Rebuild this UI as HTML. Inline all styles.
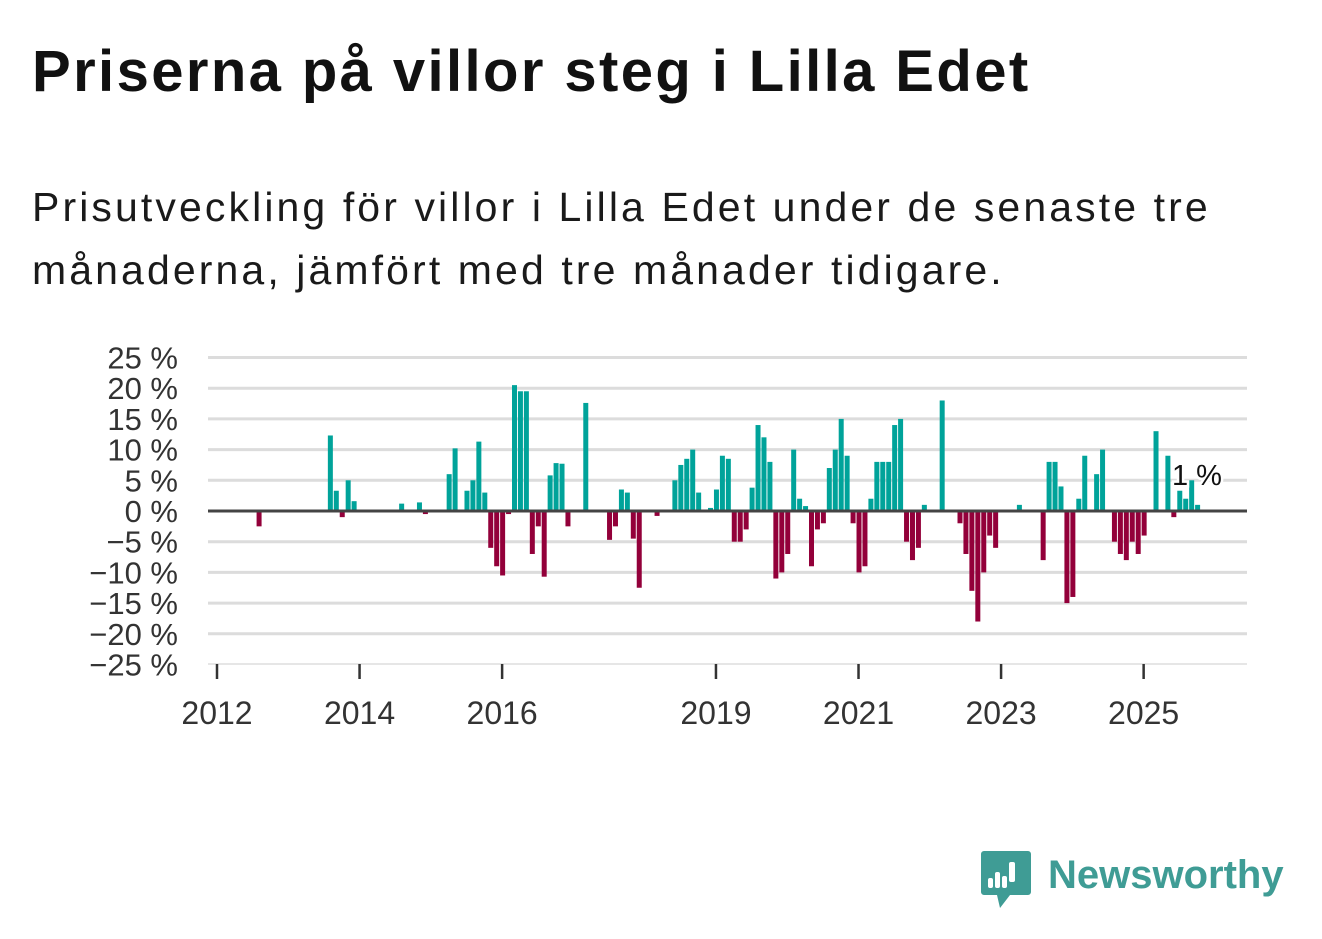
<!DOCTYPE html>
<html><head><meta charset="utf-8"><style>
body{margin:0;width:1322px;height:939px;background:#fff;overflow:hidden;font-family:"Liberation Sans","DejaVu Sans",sans-serif;color:#111}
#title{position:absolute;left:32px;top:38px;font-size:58px;font-weight:bold;margin:0;letter-spacing:2.4px;white-space:nowrap}
#sub{position:absolute;left:32px;top:176px;font-size:41px;line-height:63px;color:#1a1a1a;margin:0;letter-spacing:3.1px;white-space:nowrap}
svg{position:absolute;left:0;top:0}
</style></head><body>
<h1 id="title">Priserna på villor steg i Lilla Edet</h1>
<p id="sub">Prisutveckling för villor i Lilla Edet under de senaste tre<br>månaderna, jämfört med tre månader tidigare.</p>
<svg id="chart" width="1322" height="939"></svg>
<script>
const months=[7,19,20,21,22,23,31,34,35,39,40,42,43,44,45,46,47,48,49,50,51,52,53,54,55,56,57,58,59,62,66,67,68,69,70,71,74,77,78,79,80,81,83,84,85,86,87,88,89,90,91,92,93,94,95,96,97,98,99,100,101,102,103,104,105,106,107,108,109,110,111,112,113,114,115,116,117,118,119,122,125,126,127,128,129,130,131,135,139,140,141,142,143,144,145,146,148,149,151,152,153,154,155,156,158,160,161,162,163,164,165];
const values=[-2.5,12.3,3.3,-1,5,1.6,1.2,1.4,-0.5,6,10.2,3.3,5,11.3,3,-6,-9,-10.5,-0.5,20.5,19.5,19.5,-7,-2.5,-10.7,5.8,7.8,7.7,-2.5,17.6,-4.7,-2.5,3.5,3,-4.5,-12.5,-0.8,5,7.5,8.5,10,3,0.5,3.5,9,8.5,-5,-5,-3,3.8,14,12,8,-11,-10,-7,10,2,0.8,-9,-3,-2,7,10,15,9,-2,-10,-9,2,8,8,8,14,15,-5,-8,-6,1,18,-2,-7,-13,-18,-10,-4,-6,1,-8,8,8,4,-15,-14,2,9,6,10,-5,-7,-8,-5,-7,-4,13,9,-1,3.3,2,5,1];
const yTicks=[25,20,15,10,5,0,-5,-10,-15,-20,-25];
const xYears=[2012,2014,2016,2019,2021,2023,2025];
const svg=document.getElementById('chart');const NS='http://www.w3.org/2000/svg';
const y=v=>511-v*6.14;
const xm=m=>217+m*5.94;
const xy=yr=>xm((yr-2012)*12);
function el(t,a,p){const e=document.createElementNS(NS,t);for(const k in a)e.setAttribute(k,a[k]);(p||svg).appendChild(e);return e;}
yTicks.forEach(t=>{
  if(t!==0&&t!==-25){const g=el('line',{x1:208,x2:1247,y1:y(t),y2:y(t),stroke:'#dcdcdc','stroke-width':3});
  
  }
  const l=el('text',{x:178,y:y(t)+11,'text-anchor':'end','font-size':31,fill:'#333'});
  l.textContent=(t<0?'\u2212'+(-t):t)+' %';
  
  
});
const ax=el('line',{x1:208,x2:1247,y1:664,y2:664,stroke:'#ddd','stroke-width':1.5});


xYears.forEach(yr=>{
  const tk=el('line',{x1:xy(yr),x2:xy(yr),y1:664,y2:679,stroke:'#333','stroke-width':2.5});
  
  
  const l=el('text',{x:xy(yr),y:724,'text-anchor':'middle','font-size':32,fill:'#333'});
  l.textContent=yr;
  
  
});
months.forEach((m,i)=>{
  const v=values[i];const cx=xm(m)+0.5;
  const r=el('rect',{x:cx-2.5,width:5,y:Math.min(y(v),511),height:Math.abs(y(v)-511),fill:v>=0?'#00a39a':'#93003a'});
  
  
});
const z=el('line',{x1:208,x2:1247,y1:511,y2:511,stroke:'#444','stroke-width':3});


const lab=el('text',{x:1197,y:485,'text-anchor':'middle','font-size':29,fill:'#111',stroke:'#fff','stroke-width':5,'paint-order':'stroke'});
lab.textContent='1 %';


const lg=el('g',{});


el('path',{d:'M984 851 h44 a3 3 0 0 1 3 3 v38 a3 3 0 0 1 -3 3 h-18 l-10 13 l-3 -13 h-13 a3 3 0 0 1 -3 -3 v-38 a3 3 0 0 1 3 -3z',fill:'#3f9c95'},lg);
[[988,878,5,10],[995,872,5,16],[1002,876,5,12],[1009,862,6,20]].forEach(b=>el('rect',{x:b[0],y:b[1],width:b[2],height:b[3],rx:2,fill:'#fff'},lg));
const lt=el('text',{x:1048,y:888,'font-size':40,fill:'#3f9c95','font-weight':'bold'},lg);
lt.textContent='Newsworthy';
</script>
</body></html>
